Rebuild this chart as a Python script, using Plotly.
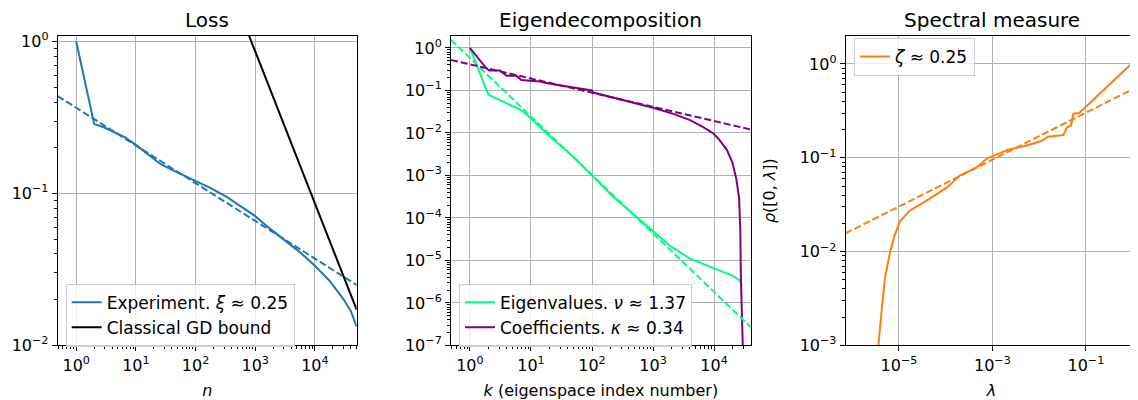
import plotly.graph_objects as go

# ---------------- data ----------------
# Panel 1: Loss
loss_n = [1, 2, 2.9, 4.2, 6.6, 10, 15, 20, 26, 42, 63, 98, 176, 333, 560, 1000, 1780, 3170, 5640, 10000, 17800, 30000, 40000, 50000]
loss_val = [1.0, 0.287, 0.273, 0.254, 0.234, 0.209, 0.185, 0.17, 0.156, 0.142, 0.132, 0.121, 0.109, 0.095, 0.083, 0.071, 0.0585, 0.049, 0.041, 0.0335, 0.0265, 0.0202, 0.0168, 0.0133]
loss_fit_n = [0.49, 1, 10, 100, 1000, 10000, 50000]
loss_fit_val = [0.438, 0.367, 0.206, 0.116, 0.066, 0.0372, 0.025]
gd_n = [500, 1000, 5000, 10000, 50000]
gd_val = [1.72, 0.86, 0.172, 0.086, 0.0172]

# Panel 2: Eigendecomposition
eig_k = [1, 2, 7, 9, 14, 20, 50, 100, 224, 1000, 1900, 4050, 9750, 20700, 26700, 28300]
eig_val = [1.0, 0.08, 0.034, 0.025, 0.0137, 0.0085, 0.0027, 0.001, 3.1e-4, 4.9e-5, 2.2e-5, 1.1e-5, 6.6e-6, 4.3e-6, 3.3e-6, 2.5e-6]
eig_fit_k = [0.49, 1, 10, 100, 1000, 10000, 40000]
eig_fit_val = [1.55, 0.58, 0.0244, 1.03e-3, 4.3e-5, 1.83e-6, 2.7e-7]

coef_k = [1, 1.83, 2.07, 3.1, 4, 5.8, 7, 14, 20.6, 38, 63, 81, 100, 105, 612, 1000, 2150, 4050, 6650, 9750,
          11700, 16200, 20000, 23200, 25700, 26900, 27500, 28800, 30200]
coef_val = [1.0, 0.34, 0.295, 0.295, 0.22, 0.22, 0.176, 0.162, 0.143, 0.126, 0.114, 0.107, 0.1, 0.089, 0.048, 0.039, 0.028, 0.02, 0.0137, 0.0097,
            0.0074, 0.004, 0.002, 8e-4, 3e-4, 5e-5, 4e-6, 4e-7, 3e-8]
coef_fit_k = [0.49, 1, 10, 100, 1000, 10000, 40000]
coef_fit_val = [0.52, 0.41, 0.19, 0.088, 0.041, 0.019, 0.012]

# Panel 3: Spectral measure
spec_lam = [3.5e-6, 3.63e-6, 4.27e-6, 5.0e-6, 6.46e-6, 8.2e-6, 1.05e-5, 1.74e-5, 3.9e-5, 1.05e-4, 2.04e-4, 4.6e-4, 7.6e-4, 1.23e-3, 2.19e-3, 5.4e-3, 1.05e-2, 1.58e-2, 3.3e-2, 3.9e-2, 4.8e-2, 5.4e-2, 7.2e-2, 0.93]
spec_val = [5e-4, 1.0e-3, 2.4e-3, 5.2e-3, 1.0e-2, 1.52e-2, 2.1e-2, 2.75e-2, 3.5e-2, 4.8e-2, 6.5e-2, 7.9e-2, 9.8e-2, 0.109, 0.122, 0.135, 0.149, 0.168, 0.175, 0.209, 0.221, 0.295, 0.30, 1.0]
spec_fit_lam = [7.2e-7, 1e-6, 1e-5, 1e-4, 1e-3, 1e-2, 1e-1, 1, 1.26]
spec_fit_val = [0.0157, 0.017, 0.0302, 0.0537, 0.0955, 0.17, 0.302, 0.537, 0.57]

titles = ["Loss", "Eigendecomposition", "Spectral measure"]

# ---------------- figure ----------------
OFF = 8  # page body margin
W, H = 1130, 392
BLUE, GREEN, PURPLE, ORANGE = "#1f77b4", "#00ff7f", "#800080", "#ff7f0e"
FONT = "DejaVu Sans"
DASH = "7px,3px"

fig = go.Figure()

def add(x, y, color, name=None, dash=None, axis=1, legend="legend"):
    suffix = "" if axis == 1 else str(axis)
    fig.add_trace(go.Scatter(
        x=x, y=y, mode="lines", name=name,
        line=dict(color=color, width=2, dash=dash),
        showlegend=name is not None,
        legend=legend,
        xaxis="x" + suffix, yaxis="y" + suffix,
        hoverinfo="skip"))

add(loss_n, loss_val, BLUE, "Experiment. <i>ξ</i> ≈ 0.25", axis=1, legend="legend")
add(gd_n, gd_val, "black", "Classical GD bound", axis=1, legend="legend")
add(loss_fit_n, loss_fit_val, BLUE, dash=DASH, axis=1)

add(eig_k, eig_val, GREEN, "Eigenvalues. <i>ν</i> ≈ 1.37", axis=2, legend="legend2")
add(coef_k, coef_val, PURPLE, "Coefficients. <i>κ</i> ≈ 0.34", axis=2, legend="legend2")
add(eig_fit_k, eig_fit_val, GREEN, dash=DASH, axis=2)
add(coef_fit_k, coef_fit_val, PURPLE, dash=DASH, axis=2)

add(spec_lam, spec_val, ORANGE, "<i>ζ</i> ≈ 0.25", axis=3, legend="legend3")
add(spec_fit_lam, spec_fit_val, ORANGE, dash=DASH, axis=3)


def sup(e):
    s = str(e).replace("-", "−")
    return "10<sup>" + s + "</sup>"


def minor_vals(lo, hi):
    out = []
    for e in range(lo, hi + 1):
        for m in range(2, 10):
            out.append(m * 10 ** e)
    return out

TICKFONT = dict(family=FONT, size=16, color="black")
LABELFONT = dict(family=FONT, size=16, color="black")


def axis(domain, rng, exps, anchor, title=None, minor=True, minor_span=None, standoff=4):
    d = dict(
        type="log", domain=domain, range=rng, anchor=anchor,
        tickmode="array", tickvals=[10 ** e for e in exps], ticktext=[sup(e) for e in exps],
        ticks="outside", ticklen=5, tickwidth=1, tickcolor="black",
        showgrid=True, gridcolor="#b0b0b0", gridwidth=1,
        showline=True, linecolor="black", linewidth=1, mirror=True,
        zeroline=False,
        tickfont=TICKFONT,
    )
    if minor:
        d["minor"] = dict(tickmode="array", tickvals=minor_vals(*minor_span),
                          ticks="outside", ticklen=3, tickwidth=0.8, tickcolor="black", showgrid=False)
    if title:
        d["title"] = dict(text=title, font=LABELFONT, standoff=standoff)
    return d

def px(x):
    return (x - OFF) / W

def py(y):
    return 1 - (y - OFF) / H

ydom = [py(353.7), py(31.7)]
d1 = [px(57.7), px(356.7)]
d2 = [px(451), px(750.7)]
d3 = [px(845.7), px(1137.3)]

LEG = dict(bgcolor="rgba(255,255,255,0.8)", bordercolor="#cccccc", borderwidth=1,
           font=dict(family=FONT, size=17, color="black"))

fig.update_layout(
    width=W, height=H,
    margin=dict(l=0, r=0, t=0, b=0),
    paper_bgcolor="white", plot_bgcolor="white",
    font=dict(family=FONT, size=14, color="black"),
    xaxis=axis(d1, [-0.31, 4.70], [0, 1, 2, 3, 4], "y", title="<i>n</i>", minor_span=(-1, 4), standoff=12),
    yaxis=axis(ydom, [-2, 0.038], [-2, -1, 0], "x", minor_span=(-2, 0)),
    xaxis2=axis(d2, [-0.31, 4.60], [0, 1, 2, 3, 4], "y2", title="<i>k</i> (eigenspace index number)", minor_span=(-1, 4), standoff=12),
    yaxis2=axis(ydom, [-7, 0.285], [-7, -6, -5, -4, -3, -2, -1, 0], "x2", minor_span=(-7, 0)),
    xaxis3=axis(d3, [-6.14, 0.10], [-5, -3, -1], "y3", title="<i>λ</i>", minor=False, standoff=14),
    yaxis3=axis(ydom, [-3, 0.30], [-3, -2, -1, 0], "x3", title="<i>ρ</i>([0, <i>λ</i>])", minor_span=(-3, 0), standoff=20),
    legend=dict(x=px(65.7), y=py(355), xanchor="left", yanchor="bottom", **LEG),
    legend2=dict(x=px(459), y=py(355), xanchor="left", yanchor="bottom", **LEG),
    legend3=dict(x=px(854), y=py(34), xanchor="left", yanchor="top", **LEG),
    showlegend=True,
)

for t, d in zip(titles, [d1, d2, d3]):
    fig.add_annotation(text=t, x=(d[0] + d[1]) / 2, y=py(15), xref="paper", yref="paper",
                       xanchor="center", yanchor="middle", showarrow=False,
                       font=dict(family=FONT, size=20, color="black"))

fig.write_html("out.html")
